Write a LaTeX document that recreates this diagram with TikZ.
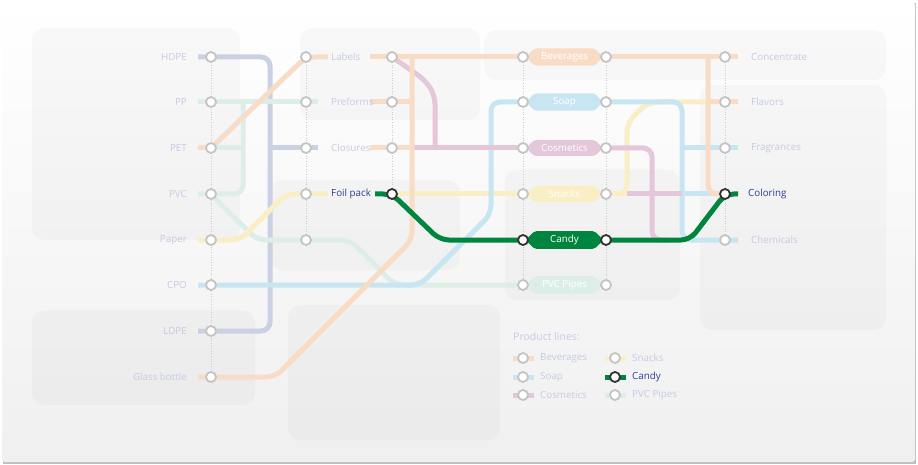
\documentclass[tikz,border=0pt]{standalone}
\usepackage{fontspec}
\setmainfont{Open Sans}
\usetikzlibrary{shapes.misc}
\definecolor{cor}{HTML}{F8DCC6}
\definecolor{cbl}{HTML}{C8E5F2}
\definecolor{cpk}{HTML}{E5C7DC}
\definecolor{cye}{HTML}{F9EEC4}
\definecolor{cgr}{HTML}{00853E}
\definecolor{cmi}{HTML}{DDEEE8}
\definecolor{cla}{HTML}{CAD1E4}
\definecolor{ctx}{HTML}{C6CBE2}
\definecolor{chi}{HTML}{2B3D93}
\definecolor{cst}{HTML}{C4C4C4}
\tikzset{
 rail/.style={line width=5pt,rounded corners=9pt},
 sta/.style={circle,draw=cst,fill=white,line width=1.8pt,inner sep=0pt,minimum size=10pt},
 stah/.style={sta,draw=black!80},
 guide/.style={draw=black!20,dotted,line width=0.6pt},
 lbl/.style={text=ctx,font=\fontsize{9.8}{11}\selectfont,inner sep=0pt},
 lblh/.style={lbl,text=chi},
 pill/.style={chamfered rectangle,chamfered rectangle xsep=4pt,chamfered rectangle sep=4pt,minimum width=76pt,minimum height=16pt,inner sep=0pt,text=white,font=\fontsize{9.8}{11}\selectfont,rounded corners=2pt},
 blob/.style={fill=black,fill opacity=0.025,rounded corners=12pt}
}
\begin{document}
\begin{tikzpicture}[x=1pt,y=-1pt]
\useasboundingbox (0,0) rectangle (918,465);
\fill[black!25] (3,3) rectangle (916,464);
\shade[top color=white,bottom color=black!6,rounded corners=3pt] (2,2) rectangle (915,462);
% faint background blobs
\fill[blob] (32,28) rectangle (240,240);
\fill[blob] (300,28) rectangle (480,120);
\fill[blob] (484,30) rectangle (886,80);
\fill[blob] (32,310) rectangle (255,405);
\fill[blob] (288,305) rectangle (500,440);
\fill[blob] (700,85) rectangle (886,330);
\fill[blob] (270,180) rectangle (460,270);
\fill[blob] (505,170) rectangle (680,300);
% guides
\foreach \x/\a/\b in {211/57/377,306/57/240,392/57/194,523/57/285,606/57/285,725/57/240}
 \draw[guide] (\x,\a) -- (\x,\b);
\foreach \n/\x/\y in {hdpe/211/57,pp/211/102,pet/211/148,pvc/211/194,paper/211/240,cpo/211/285,ldpe/211/331,glass/211/377,
 labA/306/57,preA/306/102,cloA/306/148,foilA/306/194,mid/306/240,
 labB/392/57,preB/392/102,cloB/392/148,foilB/392/194,
 bevA/523/57,soaA/523/102,cosA/523/148,snaA/523/194,canA/523/240,pvcA/523/285,
 bevB/606/57,soaB/606/102,cosB/606/148,snaB/606/194,canB/606/240,pvcB/606/285,
 conc/725/57,flav/725/102,frag/725/148,colr/725/194,chem/725/240}
 \coordinate (\n) at (\x,\y);
% lavender
\draw[rail,cla] (198,57) -- (hdpe) -- (270,57) -- (270,331) -- (ldpe) -- (198,331);
\draw[rail,cla] (270,148) -- (cloA) -- (318,148);
% mint
\draw[rail,cmi] (198,102) -- (pp) -- (preA) -- (318,102);
\draw[rail,cmi] (243,102) -- (243,194) -- (pvc) -- (198,194);
\draw[rail,cmi] (pet) -- (243,148);
\draw[rail,cmi] (pvc) -- (257,240) -- (mid) -- (350,240) -- (395,285) -- (pvcA) -- (pvcB);
% yellow
\draw[rail,cye] (198,240) -- (paper) -- (240,240) -- (286,194) -- (foilA) -- (328,194);
\draw[rail,cye] (foilB) -- (snaA) -- (snaB) -- (627,194);
\draw[rail,cye] (snaB) -- (627,194) -- (627,123) -- (648,102) -- (flav);
% blue
\draw[rail,cbl] (198,285) -- (cpo) -- (420,285) -- (491,214) -- (491,102) -- (soaA);
\draw[rail,cbl] (soaB) -- (682,102) -- (682,240) -- (chem) -- (738,240);
\draw[rail,cbl] (682,148) -- (frag) -- (738,148);
\draw[rail,cbl] (682,194) -- (colr);
% pink
\draw[rail,cpk] (labB) -- (425,80) -- (435,95) -- (435,148);
\draw[rail,cpk] (412,148) -- (cosA);
\draw[rail,cpk] (cosB) -- (652,148) -- (652,240) -- (668,240);
\draw[rail,cpk] (627,194) -- (682,194);
% orange
\draw[rail,cor] (198,377) -- (glass) -- (275,377) -- (412,240) -- (412,57);
\draw[rail,cor] (pet) -- (198,148);
\draw[rail,cor] (pet) -- (labA) -- (328,57);
\draw[rail,cor] (370,57) -- (bevA) -- (bevB) -- (conc) -- (738,57);
\draw[rail,cor] (708,57) -- (708,194) -- (colr);
\draw[rail,cor] (708,102) -- (738,102);
\draw[rail,cor] (370,102) -- (412,102);
\draw[rail,cor] (370,148) -- (412,148);
% green
\draw[rail,cgr] (375,194) -- (foilB) -- (440,240) -- (canA) -- (canB) -- (690,240) -- (colr) -- (738,194);
% pills
\node[pill,fill=cor] at (564.5,57) {Beverages};
\node[pill,fill=cbl] at (564.5,102) {Soap};
\node[pill,fill=cpk] at (564.5,148) {Cosmetics};
\node[pill,fill=cye] at (564.5,194) {Snacks};
\node[pill,fill=cgr] at (564.5,240) {Candy};
\node[pill,fill=cmi] at (564.5,285) {PVC Pipes};
% stations
\foreach \n in {hdpe,pp,pet,pvc,paper,cpo,ldpe,glass,labA,preA,cloA,foilA,mid,labB,preB,cloB,bevA,soaA,cosA,snaA,pvcA,bevB,soaB,cosB,snaB,pvcB,conc,flav,frag,chem}
 \node[sta] at (\n) {};
\foreach \n in {foilB,canA,canB,colr} \node[stah] at (\n) {};
% labels
\foreach \y/\t in {57/HDPE,102/PP,148/PET,194/PVC,240/Paper,285/CPO,331/LDPE,377/Glass bottle}
 \node[lbl,anchor=east] at (187,\y) {\t};
\foreach \y/\t in {57/Labels,102/Preforms,148/Closures}
 \node[lbl,anchor=west] at (331,\y) {\t};
\node[lblh,anchor=west] (foiltxt) at (331,194) {Foil pack};
\foreach \y/\t in {57/Concentrate,102/Flavors,148/Fragrances,240/Chemicals}
 \node[lbl,anchor=west] at (751,\y) {\t};
\node[lblh,anchor=west] (coltxt) at (748,194) {Coloring};
% legend
\node[lbl,anchor=west,font=\fontsize{10.5}{12}\selectfont] (lgt) at (513,337) {Product lines:};
\foreach \c/\y/\t in {cor/358/Beverages,cbl/377/Soap,cpk/395/Cosmetics}{
 \draw[line width=5pt,\c] (513,\y) -- (534,\y);
 \node[sta] at (523,\y) {};
 \node[lbl,anchor=west] at (540,\y) {\t};}
\foreach \c/\y/\t in {cye/358/Snacks,cmi/395/PVC Pipes}{
 \draw[line width=5pt,\c] (605,\y) -- (626,\y);
 \node[sta] at (615,\y) {};
 \node[lbl,anchor=west] at (632,\y) {\t};}
\draw[line width=5pt,cgr] (605,377) -- (626,377);
\node[stah] at (615,377) {};
\node[lblh,anchor=west] at (632,377) {Candy};
\end{tikzpicture}
\end{document}
